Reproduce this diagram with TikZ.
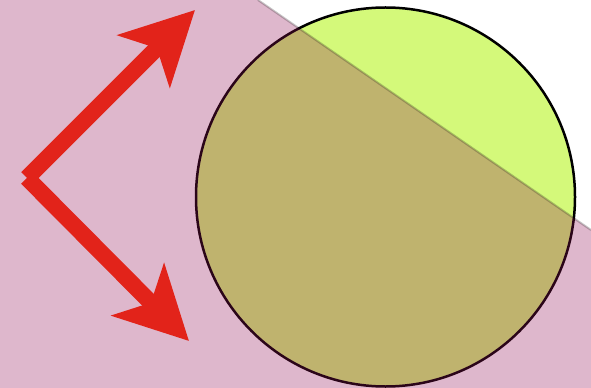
\documentclass[tikz,border=0pt]{standalone}
\usetikzlibrary{arrows.meta}
\definecolor{ballgreen}{RGB}{212,249,122}
\definecolor{shadepink}{RGB}{145,18,85}
\definecolor{arrowred}{RGB}{226,35,26}
\begin{document}
\begin{tikzpicture}[x=0.02cm,y=-0.02cm,
  redarrow/.style={draw=arrowred,line width=0.33cm,
    -{Stealth[length=1.44cm,width=1.46cm,inset=0.36cm]}}]
\useasboundingbox (0,0) rectangle (591,388);
\draw[fill=ballgreen,line width=0.05cm] (385.5,197) circle (189.5);
\fill[shadepink,opacity=0.3] (258,0) -- (591,230) -- (591,388) -- (0,388) -- (0,0) -- cycle;
\draw[black,opacity=0.22,line width=0.04cm] (258,0) -- (591,230);
\coordinate (corner) at (27,178);
\coordinate (up) at (195,10);
\coordinate (down) at (189,341);
\draw[redarrow] (corner) -- (up);
\draw[redarrow] (corner) -- (down);
\end{tikzpicture}
\end{document}
